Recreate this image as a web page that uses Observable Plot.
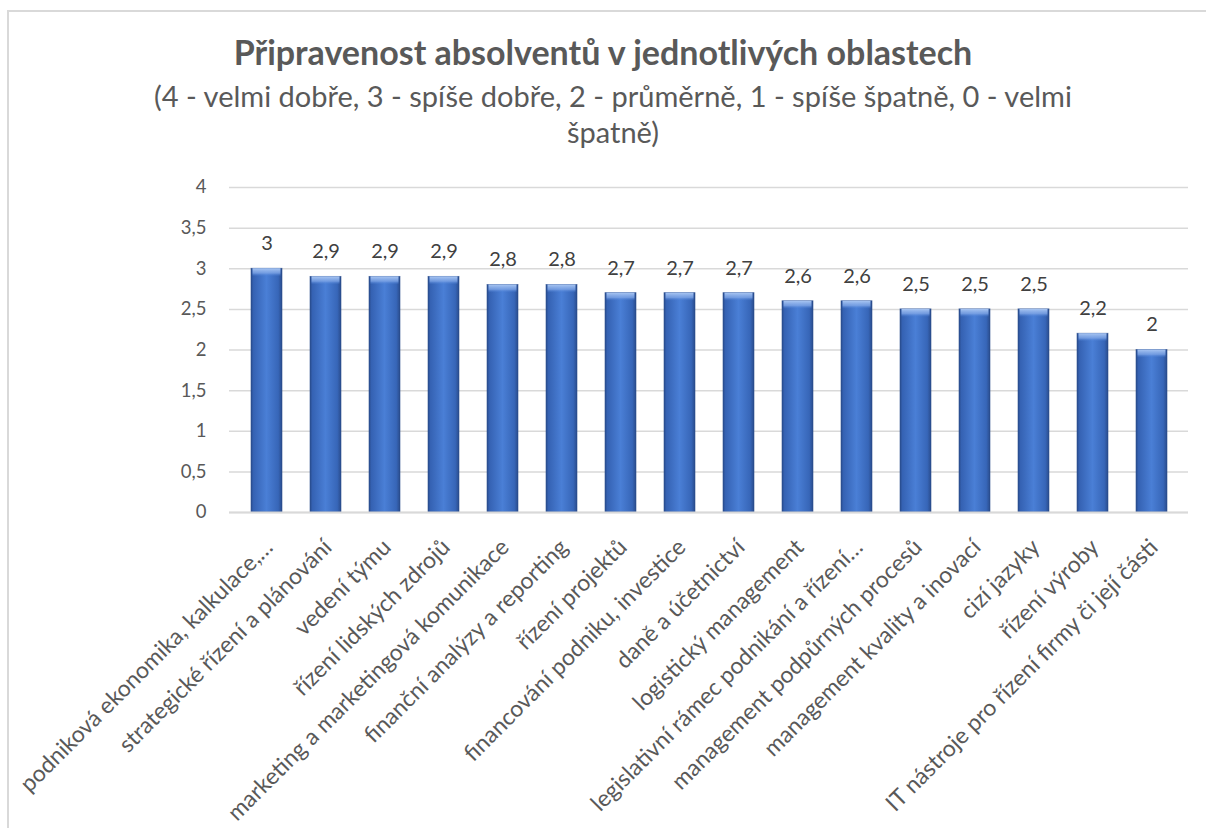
<!DOCTYPE html>
<html>
<head>
<meta charset="utf-8">
<script src="https://cdn.jsdelivr.net/npm/d3@7"></script>
<script src="https://cdn.jsdelivr.net/npm/@observablehq/plot@0.6"></script>
<style>
  html, body { margin: 0; padding: 0; overflow: hidden; background: #fff; font-family: Lato, "Open Sans", sans-serif; }
  #wrap { position: relative; width: 1206px; height: 828px; overflow: hidden; background: #fff; }
  #frameTop { position: absolute; left: 7px; top: 10px; width: 1199px; height: 2px; background: #d9d9d9; }
  #frameLeft { position: absolute; left: 7px; top: 10px; width: 2px; height: 818px; background: #d9d9d9; }
  #head { position: relative; height: 160px; color: #595959; }
  #title { position: absolute; top: 31px; left: 0; width: 1206px; text-align: center;
           font-weight: 700; font-size: 34px; line-height: 42px; }
  #subtitle { position: absolute; top: 78px; left: 10px; width: 1206px; text-align: center;
              font-size: 29px; line-height: 36px; }
  #chart { position: relative; }
</style>
</head>
<body>
<div id="wrap">
  <div id="frameTop"></div>
  <div id="frameLeft"></div>
  <div id="head">
    <div id="title">Připravenost absolventů v jednotlivých oblastech</div>
    <div id="subtitle">(4 - velmi dobře, 3 - spíše dobře, 2 - průměrně, 1 - spíše špatně, 0 - velmi<br>špatně)</div>
  </div>
  <div id="chart"></div>
</div>
<script>
const categories = [
  "podniková ekonomika, kalkulace,…",
  "strategické řízení a plánování",
  "vedení týmu",
  "řízení lidských zdrojů",
  "marketing a marketingová komunikace",
  "finanční analýzy a reporting",
  "řízení projektů",
  "financování podniku, investice",
  "daně a účetnictví",
  "logistický management",
  "legislativní rámec podnikání a řízení…",
  "management podpůrných procesů",
  "management kvality a inovací",
  "cizí jazyky",
  "řízení výroby",
  "IT nástroje pro řízení firmy či její části"
];
const values = [3, 2.9, 2.9, 2.9, 2.8, 2.8, 2.7, 2.7, 2.7, 2.6, 2.6, 2.5, 2.5, 2.5, 2.2, 2];
const yTicks = [0, 0.5, 1, 1.5, 2, 2.5, 3, 3.5, 4];

const data = categories.map((c, i) => ({ category: c, value: values[i] }));
const fmt = d => String(d).replace(".", ",");

const defs = () => {
  const g = d3.create("svg:defs");
  const lg = g.append("linearGradient").attr("id", "barGrad")
    .attr("x1", "0").attr("x2", "1").attr("y1", "0").attr("y2", "0");
  [["0%", "#2a4d8f"], ["8%", "#3562b3"], ["50%", "#4a7fd6"], ["88%", "#3766b8"], ["100%", "#2a4c8c"]]
    .forEach(([o, c]) => lg.append("stop").attr("offset", o).attr("stop-color", c));
  const bv = g.append("linearGradient").attr("id", "bevelGrad")
    .attr("x1", "0").attr("x2", "0").attr("y1", "0").attr("y2", "1");
  [["0%", "#a9c6f2", 1], ["60%", "#7ea5e6", 0.8], ["100%", "#4a7fd6", 0]]
    .forEach(([o, c, op]) => bv.append("stop").attr("offset", o).attr("stop-color", c).attr("stop-opacity", op));
  return g.node();
};

const chart = Plot.plot({
  width: 1206,
  height: 668,
  marginLeft: 229,
  marginRight: 18,
  marginTop: 27,
  marginBottom: 316,
  style: { fontFamily: "Lato, 'Open Sans', sans-serif", background: "transparent", overflow: "visible" },
  x: { domain: categories, paddingInner: 0.48, paddingOuter: 0.24, label: null },
  y: { domain: [0, 4], label: null },
  marks: [
    defs,
    Plot.gridY(yTicks, { stroke: "#d9d9d9", strokeOpacity: 1, strokeWidth: 1.5 }),
    Plot.barY(data, {
      x: "category", y: "value", fill: "url(#barGrad)",
      stroke: "#2a4c8c", strokeWidth: 0.8, strokeOpacity: 0.7,
      style: "filter: drop-shadow(2px 2px 2px rgba(0,0,0,0.25))"
    }),
    Plot.barY(data, {
      x: "category", y1: d => d.value - 0.1, y2: "value", fill: "url(#bevelGrad)", insetLeft: 1.5, insetRight: 1.5
    }),
    Plot.ruleY([0], { stroke: "#d9d9d9", strokeWidth: 2 }),
    Plot.text(data, {
      x: "category", y: "value", text: d => fmt(d.value), dy: -25,
      fontSize: 20, fill: "#404040"
    }),
    Plot.axisY(yTicks, {
      tickSize: 0, tickPadding: 23, tickFormat: fmt, fontSize: 18.5, fill: "#595959", label: null
    }),
    Plot.axisX({
      tickSize: 0, tickPadding: 31, dx: 2, tickRotate: -45, fontSize: 23, fill: "#595959", label: null
    })
  ]
});
document.getElementById("chart").appendChild(chart);
</script>
</body>
</html>
